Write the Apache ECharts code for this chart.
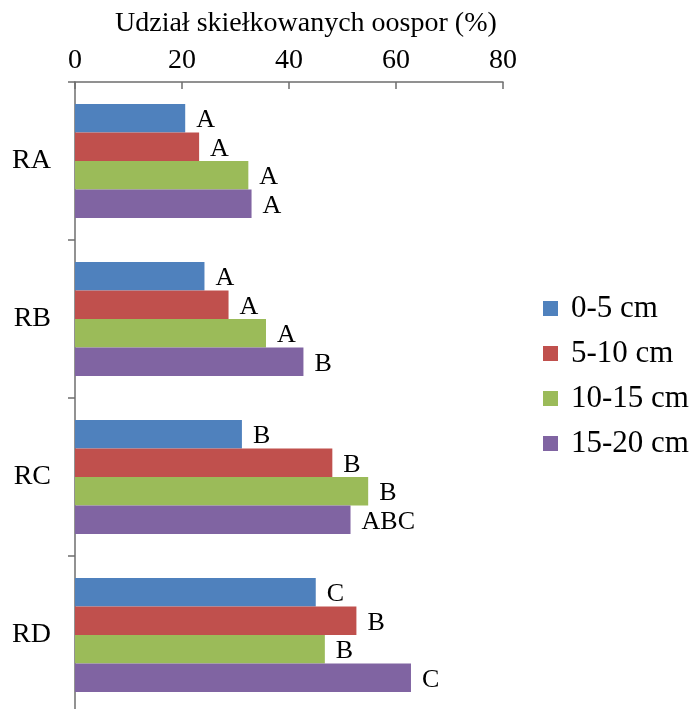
<!DOCTYPE html>
<html>
<head>
<meta charset="utf-8">
<style>
  html, body { margin: 0; padding: 0; background: #fff; }
  #chart { width: 696px; height: 709px; }
</style>
<script src="https://cdn.jsdelivr.net/npm/echarts@6/dist/echarts.min.js"></script>
</head>
<body>
<div id="chart"></div>
<script>
// Plot categories (top to bottom)
const categories = ['RA', 'RB', 'RC', 'RD'];

// Depth layers
const seriesNames = ['0-5 cm', '5-10 cm', '10-15 cm', '15-20 cm'];
const seriesColors = ['#4F81BD', '#C0504D', '#9BBB59', '#8064A2'];

// Share of germinated oospores (%) per depth layer
const depth0_5   = [20.6, 24.2, 31.2, 45.0];
const depth5_10  = [23.2, 28.7, 48.1, 52.6];
const depth10_15 = [32.4, 35.7, 54.8, 46.7];
const depth15_20 = [33.0, 42.7, 51.5, 62.8];

// Significance letters shown next to each bar
const letters0_5   = ['A', 'A', 'B', 'C'];
const letters5_10  = ['A', 'A', 'B', 'B'];
const letters10_15 = ['A', 'A', 'B', 'B'];
const letters15_20 = ['A', 'B', 'ABC', 'C'];

// X axis ticks
const xMin = 0, xMax = 80, xStep = 20;

const values = [depth0_5, depth5_10, depth10_15, depth15_20];
const letters = [letters0_5, letters5_10, letters10_15, letters15_20];

const serif = "'Liberation Serif', 'Times New Roman', serif";
const axisColor = '#6e6e6e';

const chart = echarts.init(document.getElementById('chart'), null, { renderer: 'canvas' });

const series = seriesNames.map((name, i) => ({
  name: name,
  type: 'bar',
  barWidth: 28.5,
  barGap: '0%',
  itemStyle: { color: seriesColors[i] },
  data: values[i].map((v, j) => ({ value: v, letter: letters[i][j] })),
  label: {
    show: true,
    position: 'right',
    distance: 11,
    color: '#000',
    fontFamily: serif,
    fontSize: 26,
    offset: [0, 2],
    formatter: p => p.data.letter
  },
  emphasis: { disabled: true }
}));

chart.setOption({
  animation: false,
  backgroundColor: '#fff',
  title: {
    text: 'Udział skiełkowanych oospor (%)',
    left: 115,
    top: 10,
    padding: 0,
    textStyle: { fontFamily: serif, fontSize: 28, fontWeight: 'normal', color: '#000' }
  },
  legend: {
    orient: 'vertical',
    left: 538,
    top: 288,
    itemWidth: 15,
    itemHeight: 15,
    itemGap: 14,
    icon: 'rect',
    textStyle: { fontFamily: serif, fontSize: 31, color: '#000', padding: [0, 0, 0, 8] },
    data: seriesNames
  },
  grid: {
    left: 75, top: 82, width: 428, height: 632,
    containLabel: false,
    outerBoundsMode: 'none'
  },
  xAxis: {
    type: 'value',
    position: 'top',
    min: xMin,
    max: xMax,
    interval: xStep,
    axisLine: { show: true, lineStyle: { color: axisColor, width: 1.5 } },
    axisTick: { show: true, inside: true, length: 7, lineStyle: { color: axisColor, width: 1.5 } },
    axisLabel: { color: '#000', fontFamily: serif, fontSize: 28, margin: 7 },
    splitLine: { show: false }
  },
  yAxis: {
    type: 'category',
    inverse: true,
    data: categories,
    axisLine: { show: true, lineStyle: { color: axisColor, width: 1.5 } },
    axisTick: { show: true, length: 7, lineStyle: { color: axisColor, width: 1.5 } },
    axisLabel: { color: '#000', fontFamily: serif, fontSize: 28, margin: 24 },
    splitLine: { show: false }
  },
  series: series
});
</script>
</body>
</html>
